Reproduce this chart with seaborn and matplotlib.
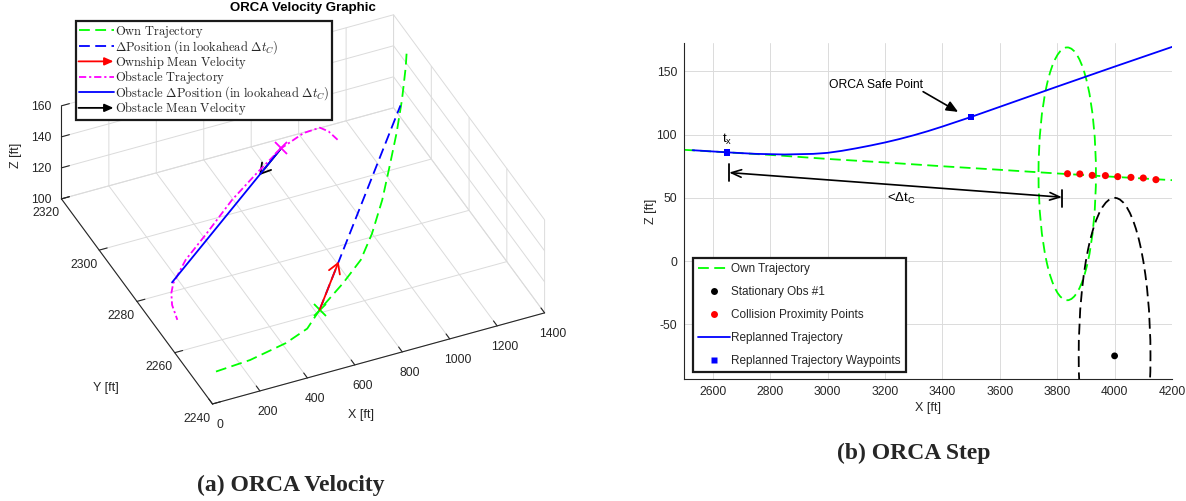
import numpy as np
import pandas as pd
import matplotlib
matplotlib.use("Agg")
import matplotlib.pyplot as plt
import seaborn as sns
from matplotlib.lines import Line2D
from matplotlib.patches import Circle, FancyArrowPatch
from matplotlib.legend_handler import HandlerBase
from matplotlib.font_manager import FontProperties
from mpl_toolkits.mplot3d import proj3d

# ---------------- (a) ORCA Velocity : 3-D data ----------------
own_x = [96, 237, 398, 503, 587, 721, 828, 919, 1018, 1104, 1193, 1266, 1332, 1360]
own_y = [2250.2, 2249.9, 2251.2, 2253.0, 2257.0, 2261.5, 2265.5, 2271.0, 2278.0, 2285.0, 2292.4, 2298.7, 2305.0, 2308.0]
own_z = [100, 102, 104, 106, 108, 112, 116, 120, 126, 132, 138, 146, 154, 158]

obs_tx = [981, 967, 946, 883, 779, 640, 499.5, 346, 218, 126, 102, 82, 70]
obs_ty = [2297, 2300, 2302, 2302.7, 2301.5, 2296.9, 2292.4, 2286.4, 2281.6, 2276.6, 2274.6, 2271.7, 2267.4]
obs_tz = [135, 136, 136, 134, 130.5, 128, 124, 119, 115, 112, 110, 108, 106]

own_now = [587, 2257, 108]
own_dpos_end = [1246, 2297, 146]
own_vel = [155, 9.4, 9.0]

obs_now = [779, 2301.5, 130.5]
obs_dpos_end = [124, 2277, 112]
obs_vel = [-131, -4.9, -3.7]

x3_ticks = [0, 200, 400, 600, 800, 1000, 1200, 1400]
y3_ticks = [2240, 2260, 2280, 2300, 2320]
z3_ticks = [100, 120, 140, 160]

legend_a = [r"$\mathrm{Own\ Trajectory}$",
            r"$\Delta\mathrm{Position\ (in\ lookahead\ }\Delta t_C\mathrm{)}$",
            r"$\mathrm{Ownship\ Mean\ Velocity}$",
            r"$\mathrm{Obstacle\ Trajectory}$",
            r"$\mathrm{Obstacle\ }\Delta\mathrm{Position\ (in\ lookahead\ }\Delta t_C\mathrm{)}$",
            r"$\mathrm{Obstacle\ Mean\ Velocity}$"]

# ---------------- (b) ORCA Step : 2-D data ----------------
own2_x = [2500, 2650, 2800, 3000, 3200, 3400, 3600, 3800, 4000, 4200]
own2_z = [88, 86, 84, 80.8, 78, 75, 72.2, 69.3, 66.6, 64]

repl_x = [2530, 2650, 2750, 2850, 2950, 3000, 3050, 3100, 3150, 3200, 3250, 3300, 3350, 3400, 3450, 3500, 3600, 3800, 4000, 4200]
repl_z = [87.7, 86, 84.8, 84.3, 84.8, 85.6, 87.2, 89.2, 91.4, 93.8, 96.5, 99.5, 102.8, 106.4, 110.2, 114, 122, 138, 153.8, 169.4]

wp_x = [2650, 3500]
wp_z = [86, 114]

col_x = [3836, 3879, 3922, 3968, 4011, 4057, 4100, 4144]
col_z = [69.1, 68.9, 67.8, 67.6, 66.8, 66.2, 65.7, 64.4]

stat_x = [4000]
stat_z = [-75]

own_zone_center = (3835, 69)
own_zone_radius = 100
obs_zone_center = (4000, -75)
obs_zone_radius = 125

dt_start = (2657, 70)
dt_end = (3817, 50.5)
dt_bar_left = (63.0, 76.8)
dt_bar_right = (43.0, 56.0)
safe_arrow_from = (3333, 134)
safe_arrow_to = (3455, 118)

x2_ticks = [2600, 2800, 3000, 3200, 3400, 3600, 3800, 4000, 4200]
z2_ticks = [-50, 0, 50, 100, 150]

legend_b = ["Own Trajectory", "Stationary Obs #1", "Collision Proximity Points",
            "Replanned Trajectory", "Replanned Trajectory Waypoints"]

# ---------------- style ----------------
sns.set_style("white")
plt.rcParams["font.family"] = ["Liberation Sans", "DejaVu Sans"]
plt.rcParams["mathtext.fontset"] = "custom"
plt.rcParams["mathtext.rm"] = "Liberation Sans"
plt.rcParams["mathtext.it"] = "Liberation Sans:italic"
plt.rcParams["mathtext.bf"] = "Liberation Sans:bold"
plt.rcParams["axes.formatter.useoffset"] = False
plt.rcParams["axes.unicode_minus"] = False

GREEN = (0, 1, 0)
BLUE = (0, 0, 1)
RED = (1, 0, 0)
MAG = (1, 0, 1)
TXT = (0.15, 0.15, 0.15)
GRID = (0.86, 0.86, 0.86)
DASH = (0, (6, 3))
DASHDOT = (0, (4, 1.6, 1.2, 1.6))
LW = 1.3
TICKFS = 8.7

W, H = 1186, 501
fig = plt.figure(figsize=(W / 100, H / 100), dpi=100)


class Arrow3D(FancyArrowPatch):
    def __init__(self, start, vec, **kw):
        super().__init__((0, 0), (0, 0), **kw)
        self._v3 = ([start[0], start[0] + vec[0]],
                    [start[1], start[1] + vec[1]],
                    [start[2], start[2] + vec[2]])

    def do_3d_projection(self, renderer=None):
        xs, ys, zs = proj3d.proj_transform(*self._v3, self.axes.M)
        self.set_positions((xs[0], ys[0]), (xs[1], ys[1]))
        return np.min(zs)


class ArrowHandler(HandlerBase):
    def create_artists(self, legend, orig_handle, xdescent, ydescent, width,
                       height, fontsize, trans):
        y = height / 2 - ydescent
        a = FancyArrowPatch((-xdescent, y), (width - xdescent, y),
                            arrowstyle="-|>,head_length=0.45,head_width=0.2",
                            mutation_scale=fontsize * 1.3, shrinkA=0, shrinkB=0,
                            color=orig_handle.get_color(), lw=orig_handle.get_linewidth(),
                            transform=trans)
        return [a]


# ================= left: 3-D =================
ax3 = fig.add_axes([0.1, 0.1, 450 / W, 450 / H], projection="3d", proj_type="ortho")
ax3.set_xlim(0, 1400)
ax3.set_ylim(2240, 2320)
ax3.set_zlim(100, 160)
ax3.view_init(elev=37.6, azim=-114.2)
ax3.set_box_aspect((1, 1.012, 0.3225))
ax3.set_xticks(x3_ticks)
ax3.set_yticks(y3_ticks)
ax3.set_zticks(z3_ticks)
for axis in (ax3.xaxis, ax3.yaxis, ax3.zaxis):
    axis.set_pane_color((1, 1, 1, 0))
    axis.pane.set_edgecolor(GRID)
    axis._axinfo["grid"].update(color=GRID, linewidth=0.7)
    axis.line.set_color(TXT)
    axis.line.set_linewidth(0.8)
    axis._axinfo["tick"]["inward_factor"] = 0.0
    axis._axinfo["tick"]["outward_factor"] = 0.3
ax3.tick_params(axis="both", labelsize=TICKFS, colors=TXT)
ax3.tick_params(axis="x", pad=2)
ax3.tick_params(axis="y", pad=1)
ax3.tick_params(axis="z", pad=0)

ax3.plot(own_x, own_y, own_z, color=GREEN, ls=DASH, lw=LW)
ax3.plot([own_now[0], own_dpos_end[0]], [own_now[1], own_dpos_end[1]],
         [own_now[2], own_dpos_end[2]], color=BLUE, ls=DASH, lw=LW)
ax3.plot(obs_tx, obs_ty, obs_tz, color=MAG, ls=DASHDOT, lw=LW)
ax3.plot([obs_now[0], obs_dpos_end[0]], [obs_now[1], obs_dpos_end[1]],
         [obs_now[2], obs_dpos_end[2]], color=BLUE, lw=LW)
ax3.plot([own_now[0]], [own_now[1]], [own_now[2]], marker="x", ms=9, mew=1.3,
         color=GREEN, ls="none")
ax3.plot([obs_now[0]], [obs_now[1]], [obs_now[2]], marker="x", ms=9, mew=1.3,
         color=MAG, ls="none")
for start, vec, col in ((own_now, own_vel, RED), (obs_now, obs_vel, "k")):
    ax3.add_artist(Arrow3D(start, vec, arrowstyle="->,head_length=0.5,head_width=0.3",
                           mutation_scale=14, color=col, lw=LW, shrinkA=0, shrinkB=0))

# axis titles drawn horizontally, as in the reference
fig.text(361 / W, 1 - 415 / H, "X [ft]", ha="center", va="center", fontsize=9, color=TXT)
fig.text(106 / W, 1 - 388 / H, "Y [ft]", ha="center", va="center", fontsize=9, color=TXT)
fig.text(16 / W, 1 - 155 / H, "Z [ft]", ha="center", va="center", fontsize=9, color=TXT,
         rotation=90)

# legend (a)
hA = [Line2D([], [], color=GREEN, ls=DASH, lw=LW),
      Line2D([], [], color=BLUE, ls=DASH, lw=LW),
      Line2D([], [], color=RED, lw=LW),
      Line2D([], [], color=MAG, ls=DASHDOT, lw=LW),
      Line2D([], [], color=BLUE, lw=LW),
      Line2D([], [], color="k", lw=LW)]
legA = fig.legend(hA, legend_a, loc="upper left", bbox_to_anchor=(76 / W, 1 - 21 / H),
                  handler_map={hA[2]: ArrowHandler(), hA[5]: ArrowHandler()},
                  prop=FontProperties(size=9, math_fontfamily="cm"),
                  frameon=True, fancybox=False, framealpha=1, edgecolor=(0.1, 0.1, 0.1),
                  borderpad=0.2, labelspacing=-0.14, handlelength=2.8,
                  handletextpad=0.12, borderaxespad=0)
legA.get_frame().set_linewidth(1.6)
for t in legA.get_texts():
    t.set_color(TXT)

fig.text(303 / W, 1 - 8 / H, "ORCA Velocity Graphic", ha="center", va="center",
         fontsize=9.5, fontweight="bold", color="k")

# fit the projected box onto the reference location
corners = [(0, 2240, 100), (1400, 2240, 100), (0, 2320, 100)]
targets = np.array([[212.5, 404.0], [544.6, 312.7], [61.4, 199.0]])
side, cx, cy = 450.0, 300.0, 220.0


def place():
    ax3.set_position([(cx - side / 2) / W, 1 - (cy + side / 2) / H, side / W, side / H])


def pix(p):
    x2, y2, _ = proj3d.proj_transform(p[0], p[1], p[2], ax3.get_proj())
    d = ax3.transData.transform((x2, y2))
    return np.array([d[0], H - d[1]])


place()
for _ in range(4):
    fig.canvas.draw()
    cur = np.array([pix(c) for c in corners])
    s = ((np.linalg.norm(targets[1] - targets[0]) + np.linalg.norm(targets[2] - targets[0])) /
         (np.linalg.norm(cur[1] - cur[0]) + np.linalg.norm(cur[2] - cur[0])))
    newc = targets.mean(0) - s * (cur.mean(0) - np.array([cx, cy]))
    cx, cy = newc
    side *= s
    place()

# ================= right: 2-D =================
axr = fig.add_axes([684 / W, 1 - 379 / H, (1172 - 684) / W, (379 - 43) / H])
axr.set_xlim(2500, 4200)
axr.set_ylim(-93.3, 172.5)
axr.grid(True, color=GRID, lw=0.7)
axr.set_axisbelow(True)

sns.lineplot(x=own2_x, y=own2_z, ax=axr, color=GREEN, lw=LW, linestyle=DASH, sort=False)
axr.add_patch(Circle(own_zone_center, own_zone_radius, fill=False, ec=GREEN, ls=DASH, lw=LW))
axr.add_patch(Circle(obs_zone_center, obs_zone_radius, fill=False, ec="k", ls=DASH, lw=LW))
sns.scatterplot(x=stat_x, y=stat_z, ax=axr, color="k", s=24, edgecolor="none", zorder=4)
sns.scatterplot(x=col_x, y=col_z, ax=axr, color=RED, s=26, edgecolor="none", zorder=4)
sns.lineplot(x=repl_x, y=repl_z, ax=axr, color=BLUE, lw=LW, sort=False, zorder=5)
sns.scatterplot(x=wp_x, y=wp_z, ax=axr, color=BLUE, marker="s", s=24, edgecolor="none", zorder=6)

axr.annotate("", xy=dt_start, xytext=dt_end,
             arrowprops=dict(arrowstyle="<->,head_length=0.45,head_width=0.17",
                             mutation_scale=16, color="k", lw=1.2, shrinkA=0, shrinkB=0))
axr.plot([dt_start[0], dt_start[0]], list(dt_bar_left), color="k", lw=1.3)
axr.plot([dt_end[0], dt_end[0]], list(dt_bar_right), color="k", lw=1.3)
axr.annotate("", xy=safe_arrow_to, xytext=safe_arrow_from,
             arrowprops=dict(arrowstyle="-|>,head_length=0.5,head_width=0.22",
                             mutation_scale=14, color="k", lw=1.2, shrinkA=0, shrinkB=0))
axr.text(3169, 139.6, "ORCA Safe Point", fontsize=8.7, ha="center", va="center", color="k")
axr.text(2652, 90.5, r"t$_\mathrm{x}$", fontsize=9.5, ha="center", va="bottom", color="k")
axr.text(3256, 55.5, r"<$\Delta$t$_\mathrm{C}$", fontsize=9.5, ha="center", va="top", color="k")

axr.set_xticks(x2_ticks)
axr.set_yticks(z2_ticks)
axr.tick_params(direction="in", length=4, width=0.8, colors=TXT, labelsize=TICKFS, pad=5)
for sp in ("top", "right"):
    axr.spines[sp].set_visible(False)
for sp in ("left", "bottom"):
    axr.spines[sp].set_color(TXT)
    axr.spines[sp].set_linewidth(0.8)
axr.set_xlabel("X [ft]", fontsize=9, color=TXT, labelpad=3)
axr.set_ylabel("Z [ft]", fontsize=9, color=TXT, labelpad=0)

hB = [Line2D([], [], color=GREEN, ls=DASH, lw=LW),
      Line2D([], [], color="k", marker="o", ms=5, mec="none", ls="none"),
      Line2D([], [], color=RED, marker="o", ms=5, mec="none", ls="none"),
      Line2D([], [], color=BLUE, lw=LW),
      Line2D([], [], color=BLUE, marker="s", ms=4.5, mec="none", ls="none")]
legB = axr.legend(hB, legend_b, loc="upper left", bbox_to_anchor=(692.5 / W, 1 - 258 / H),
                  bbox_transform=fig.transFigure, fontsize=8.5, frameon=True, fancybox=False,
                  framealpha=1, edgecolor=(0.1, 0.1, 0.1), borderpad=0.45, labelspacing=0.92,
                  handlelength=2.7, handletextpad=0.15, borderaxespad=0)
legB.get_frame().set_linewidth(1.6)
for t in legB.get_texts():
    t.set_color(TXT)

# ---------------- captions ----------------
fig.text(291 / W, 1 - 485 / H, "(a) ORCA Velocity", ha="center", va="center",
         fontsize=17, fontweight="bold", family="Liberation Serif")
fig.text(914 / W, 1 - 453 / H, "(b) ORCA Step", ha="center", va="center",
         fontsize=17, fontweight="bold", family="Liberation Serif")

fig.savefig("out.png", dpi=100)
